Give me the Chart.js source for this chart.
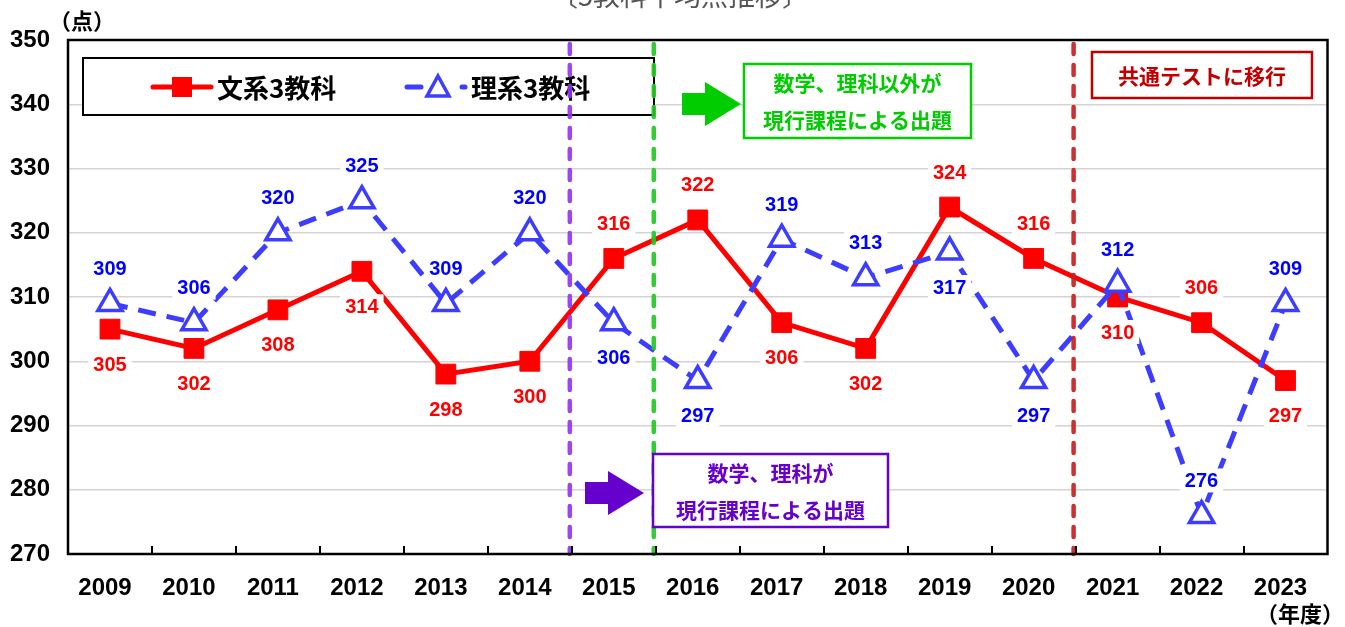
<!DOCTYPE html>
<html>
<head>
<meta charset="utf-8">
<script src="https://cdn.jsdelivr.net/npm/chart.js@4"></script>
<style>
  body { margin: 0; background: #fff; }
</style>
</head>
<body>
<canvas id="lineChart" width="1345" height="627"></canvas>
<script>
const years = ['2009', '2010', '2011', '2012', '2013', '2014', '2015', '2016',
               '2017', '2018', '2019', '2020', '2021', '2022', '2023'];
const bunkei = [305, 302, 308, 314, 298, 300, 316, 322, 306, 302, 324, 316, 310, 306, 297];
const rikei  = [309, 306, 320, 325, 309, 320, 306, 297, 319, 313, 317, 297, 312, 276, 309];
const yTicks = [270, 280, 290, 300, 310, 320, 330, 340, 350];

const RED = '#ff0000';
const BLUE = '#3d3dff';
const JP = '"Noto Sans CJK JP", sans-serif';
const NUM = '"Liberation Sans", Arial, sans-serif';

// boundaries between categories: purple 2014|2015, green 2015|2016, red 2020|2021
const markers = [
  { after: 5, color: 'rgba(145,55,240,0.92)' },
  { after: 6, color: 'rgba(35,200,35,0.92)' },
  { after: 11, color: 'rgba(200,30,30,0.92)' }
];

function boundary(xs, i) {
  return (xs.getPixelForValue(i) + xs.getPixelForValue(i + 1)) / 2;
}

function arrow(ctx, x, y, color) {
  // x,y = tip of arrow
  ctx.fillStyle = color;
  ctx.beginPath();
  ctx.moveTo(x, y);
  ctx.lineTo(x - 36, y - 22);
  ctx.lineTo(x - 36, y - 11);
  ctx.lineTo(x - 59, y - 11);
  ctx.lineTo(x - 59, y + 11);
  ctx.lineTo(x - 36, y + 11);
  ctx.lineTo(x - 36, y + 22);
  ctx.closePath();
  ctx.fill();
}

function noteBox(ctx, x, y, w, h, color, lines) {
  ctx.fillStyle = '#fff';
  ctx.fillRect(x, y, w, h);
  ctx.strokeStyle = color;
  ctx.lineWidth = 2.5;
  ctx.setLineDash([]);
  ctx.strokeRect(x, y, w, h);
  ctx.fillStyle = color;
  ctx.font = 'bold 21px ' + JP;
  ctx.textAlign = 'center';
  ctx.textBaseline = 'middle';
  const step = h / lines.length;
  lines.forEach((t, i) => ctx.fillText(t, x + w / 2, y + step * (i + 0.5) + 1));
}

const extras = {
  id: 'extras',
  beforeDraw(chart) {
    const ctx = chart.ctx;
    ctx.save();
    ctx.fillStyle = '#fff';
    ctx.fillRect(0, 0, chart.width, chart.height);
    ctx.restore();
  },
  beforeDatasetsDraw(chart) {
    const ctx = chart.ctx;
    const a = chart.chartArea;
    ctx.save();
    // legend box
    const lx = 83, ly = a.top + 18;
    ctx.fillStyle = '#fff';
    ctx.fillRect(lx, ly, 571, 57);
    ctx.strokeStyle = '#000';
    ctx.lineWidth = 2;
    ctx.strokeRect(lx, ly, 571, 57);
    const cy = ly + 29;
    ctx.lineCap = 'round';
    ctx.strokeStyle = RED;
    ctx.lineWidth = 5;
    ctx.beginPath(); ctx.moveTo(lx + 70, cy); ctx.lineTo(lx + 128, cy); ctx.stroke();
    ctx.fillStyle = RED;
    ctx.fillRect(lx + 89, cy - 10, 20, 20);
    ctx.strokeStyle = BLUE;
    ctx.beginPath(); ctx.moveTo(lx + 324, cy); ctx.lineTo(lx + 338, cy); ctx.stroke();
    ctx.beginPath(); ctx.moveTo(lx + 379, cy); ctx.lineTo(lx + 382, cy); ctx.stroke();
    ctx.lineWidth = 3.5;
    ctx.fillStyle = '#fff';
    ctx.beginPath();
    ctx.moveTo(lx + 355, cy - 11);
    ctx.lineTo(lx + 366, cy + 9);
    ctx.lineTo(lx + 344, cy + 9);
    ctx.closePath();
    ctx.fill(); ctx.stroke();
    ctx.fillStyle = '#000';
    ctx.font = 'bold 26px ' + JP;
    ctx.textAlign = 'left';
    ctx.textBaseline = 'middle';
    ctx.fillText('文系3教科', lx + 134, cy + 1);
    ctx.fillText('理系3教科', lx + 388, cy + 1);
    ctx.restore();
  },
  afterDatasetsDraw(chart) {
    const ctx = chart.ctx;
    const a = chart.chartArea;
    const xs = chart.scales.x;
    const ys = chart.scales.y;
    ctx.save();

    // vertical dashed markers
    ctx.lineWidth = 4.5;
    ctx.lineCap = 'round';
    ctx.setLineDash([10, 11]);
    markers.forEach(m => {
      const x = boundary(xs, m.after) - 2;
      ctx.strokeStyle = m.color;
      ctx.beginPath();
      ctx.moveTo(x, a.top + 4);
      ctx.lineTo(x, a.bottom);
      ctx.stroke();
    });
    ctx.setLineDash([]);
    ctx.lineCap = 'butt';

    // plot frame and x tick marks
    ctx.strokeStyle = '#000';
    ctx.lineWidth = 2.5;
    ctx.strokeRect(a.left, a.top, a.right - a.left, a.bottom - a.top);
    ctx.lineWidth = 2;
    for (let i = 0; i < years.length - 1; i++) {
      const x = Math.round(boundary(xs, i));
      ctx.beginPath();
      ctx.moveTo(x, a.bottom);
      ctx.lineTo(x, a.bottom - 8);
      ctx.stroke();
    }

    // data labels with white boxes
    ctx.font = 'bold 20px ' + NUM;
    ctx.textAlign = 'center';
    ctx.textBaseline = 'middle';
    const series = [[bunkei, rikei, '#ff0000'], [rikei, bunkei, '#0000ff']];
    series.forEach(([vals, other, col]) => {
      vals.forEach((v, i) => {
        const x = xs.getPixelForValue(i);
        const y = ys.getPixelForValue(v);
        let ty = v >= other[i] ? y - 35 : y + 35;
        if (ty + 12 > a.bottom) ty = y - 35;
        const t = String(v);
        const w = ctx.measureText(t).width + 10;
        ctx.fillStyle = '#fff';
        ctx.fillRect(x - w / 2, ty - 12, w, 24);
        ctx.fillStyle = col;
        ctx.fillText(t, x, ty + 1);
      });
    });

    // notes
    arrow(ctx, 741, 104, '#00cc00');
    noteBox(ctx, 744, 64, 227, 74, '#00cc00', ['数学、理科以外が', '現行課程による出題']);
    arrow(ctx, 644, 493, '#6600cc');
    noteBox(ctx, 653, 454, 235, 73, '#6600cc', ['数学、理科が', '現行課程による出題']);
    noteBox(ctx, 1092, 52, 220, 46, '#c00000', ['共通テストに移行']);

    // axis captions and title
    ctx.fillStyle = '#000';
    ctx.font = 'bold 22px ' + JP;
    ctx.fillText('（点）', 82, 21);
    ctx.fillText('（年度）', 1300, 614);
    ctx.fillStyle = '#555';
    ctx.font = '27px ' + JP;
    ctx.fillText('〔5教科平均点推移〕', 680, -4);
    ctx.restore();
  }
};

new Chart(document.getElementById('lineChart'), {
  type: 'line',
  data: {
    labels: years,
    datasets: [{
      label: '文系3教科',
      data: bunkei,
      borderColor: RED,
      backgroundColor: RED,
      borderWidth: 5,
      pointStyle: 'rect',
      pointRadius: 14,
      pointBackgroundColor: RED,
      pointBorderColor: RED,
      pointBorderWidth: 1,
      tension: 0,
      order: 2
    },
    {
      label: '理系3教科',
      data: rikei,
      borderColor: BLUE,
      backgroundColor: '#fff',
      borderWidth: 5,
      borderDash: [18, 11],
      pointStyle: 'triangle',
      pointRadius: 14,
      pointBackgroundColor: '#fff',
      pointBorderColor: BLUE,
      pointBorderWidth: 3.5,
      tension: 0,
      order: 1
    }]
  },
  options: {
    responsive: false,
    animation: false,
    layout: { padding: { top: 40, right: 11, left: 0, bottom: 0 } },
    plugins: {
      legend: { display: false },
      tooltip: { enabled: false }
    },
    scales: {
      x: {
        offset: true,
        grid: { display: false },
        border: { display: false },
        ticks: { color: '#000', font: { family: NUM, size: 24, weight: 'bold' }, padding: 12, labelOffset: -5 },
        afterFit: s => { s.height = 73; s.paddingLeft = 0; s.paddingRight = 0; }
      },
      y: {
        min: 270,
        max: 350,
        afterBuildTicks: s => { s.ticks = yTicks.map(v => ({ value: v })); },
        grid: { color: '#d4d4d4', lineWidth: 1.5, drawTicks: false },
        border: { display: false },
        ticks: { color: '#000', font: { family: NUM, size: 24, weight: 'bold' }, padding: 18 },
        afterFit: s => { s.width = 68; s.paddingTop = 0; s.paddingBottom = 0; }
      }
    }
  },
  plugins: [extras]
});
</script>
</body>
</html>
